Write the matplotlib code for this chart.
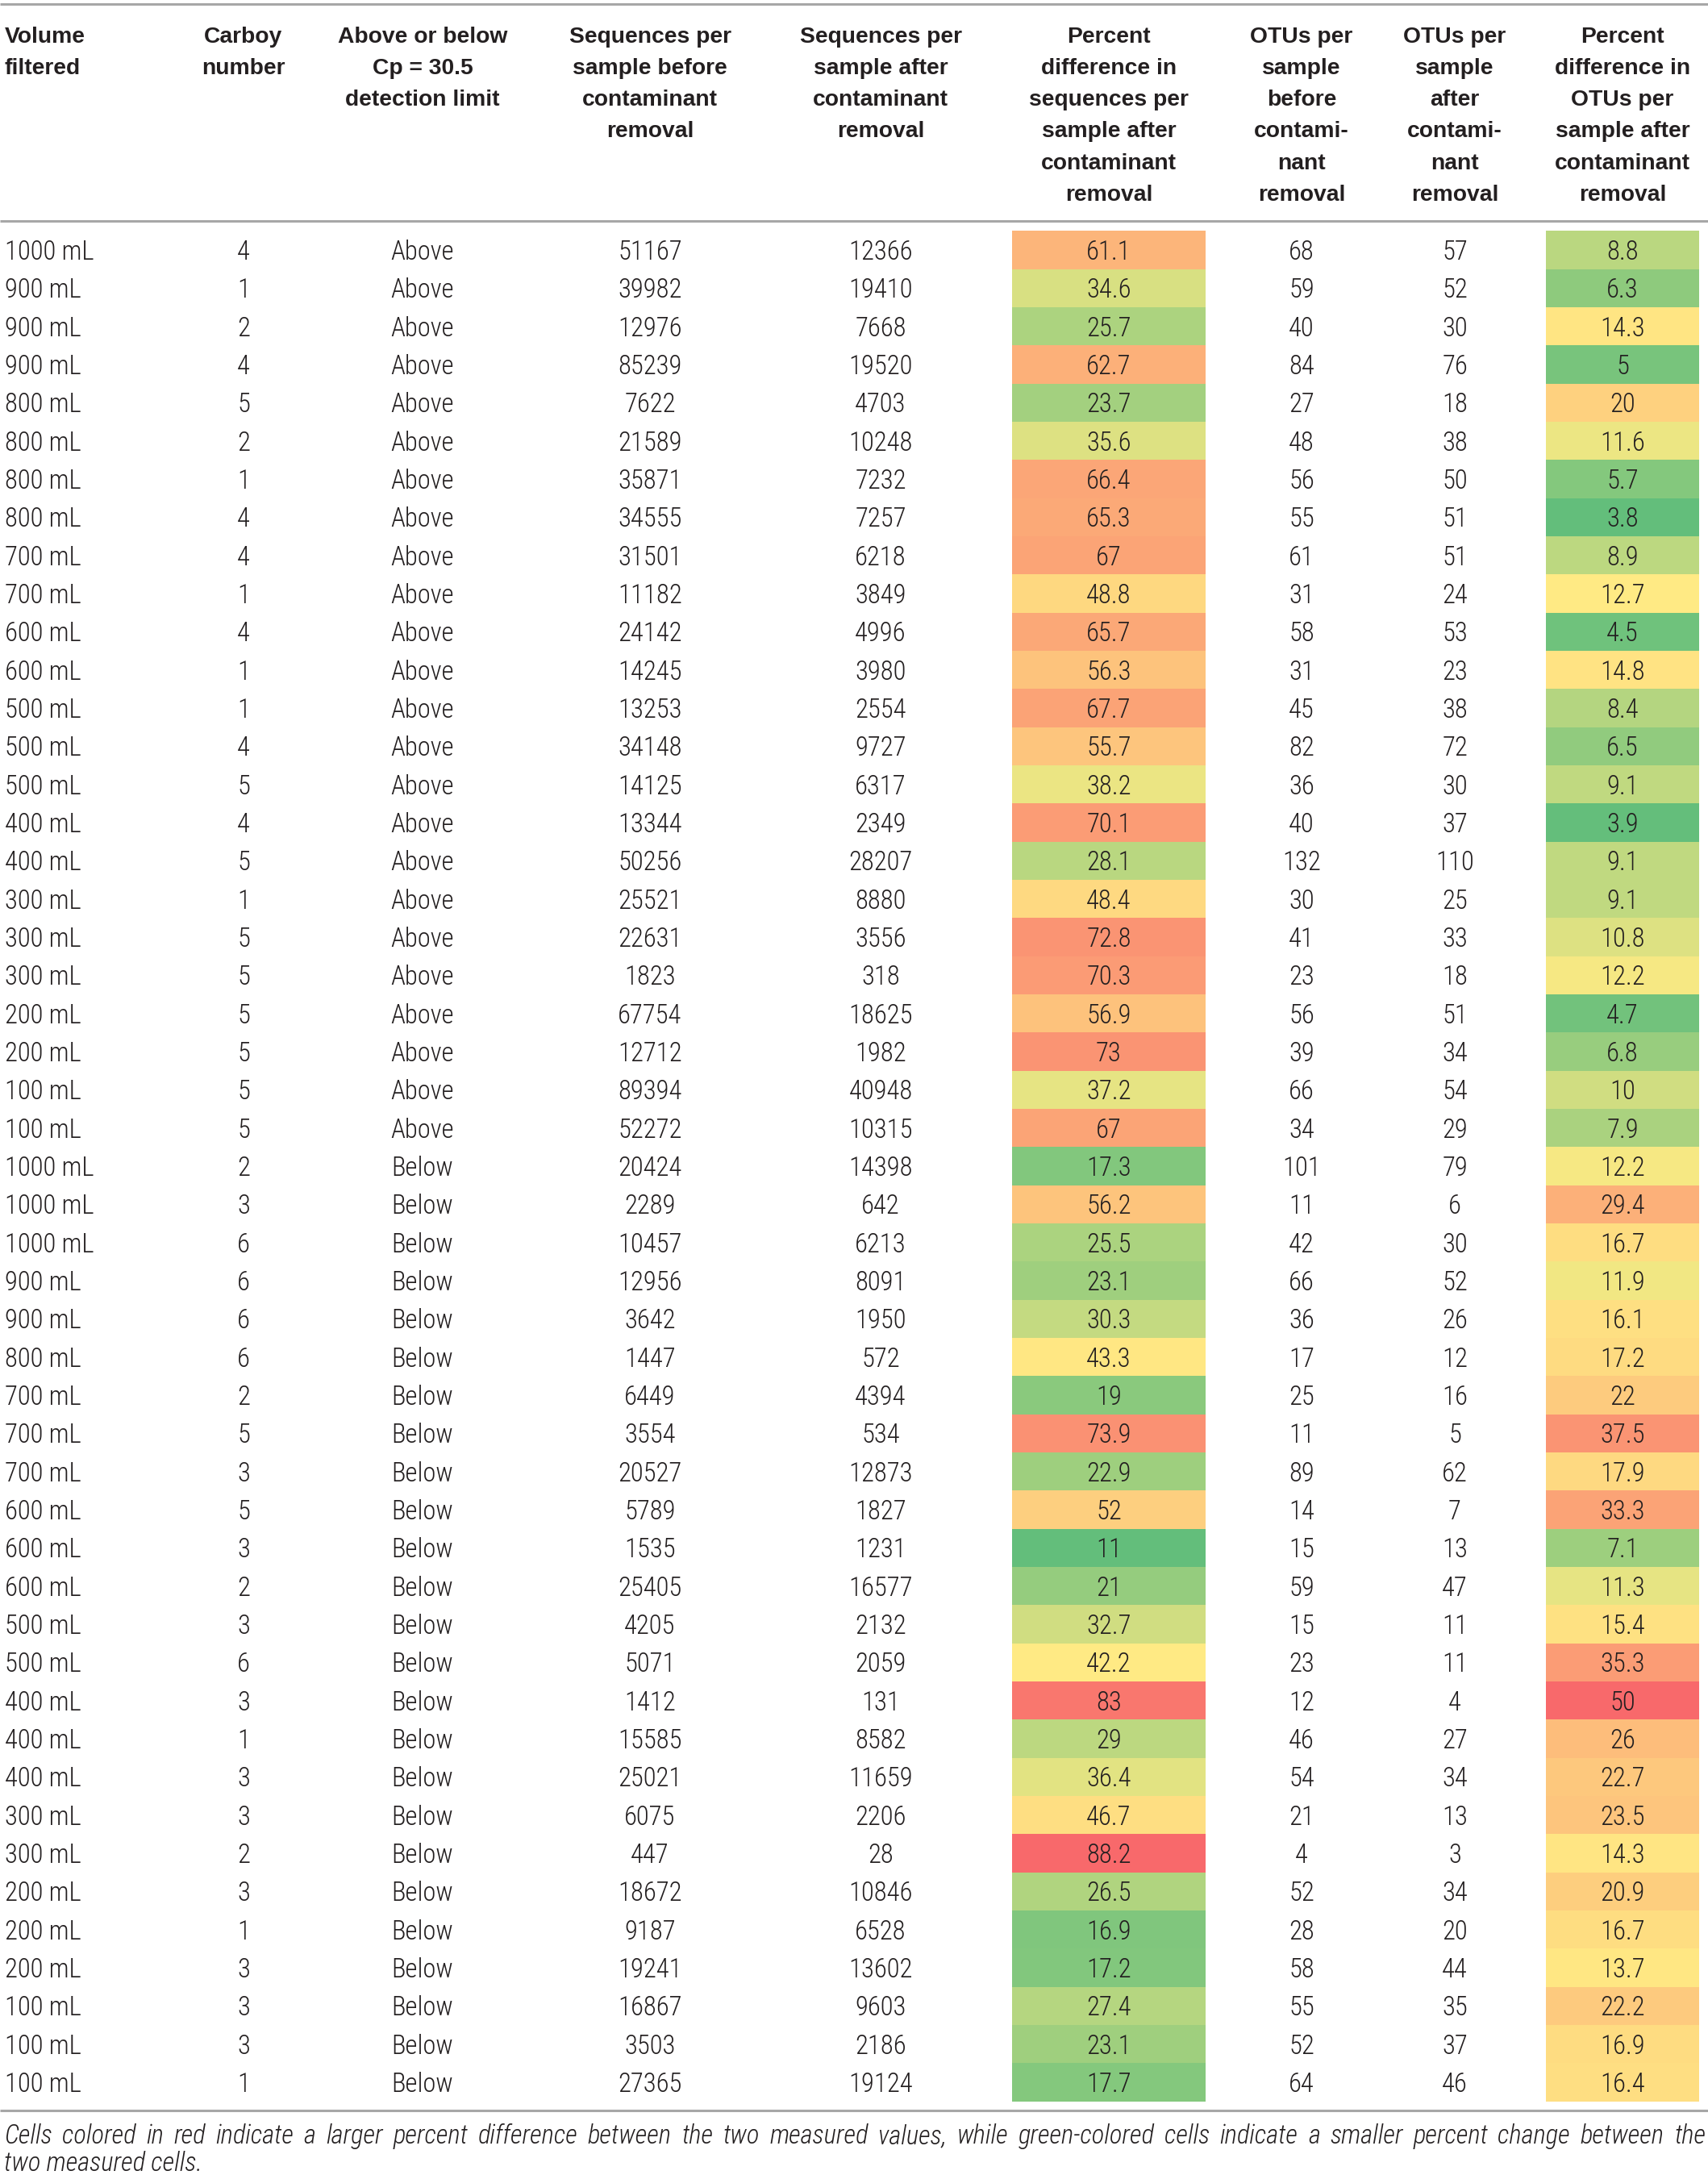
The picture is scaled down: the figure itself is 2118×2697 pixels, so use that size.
import matplotlib
matplotlib.use("Agg")
import matplotlib.pyplot as plt
import numpy as np
from matplotlib.colors import LinearSegmentedColormap, TwoSlopeNorm

# table data
volume = [1000, 900, 900, 900, 800, 800, 800, 800, 700, 700, 600, 600, 500, 500, 500, 400, 400,
          300, 300, 300, 200, 200, 100, 100,
          1000, 1000, 1000, 900, 900, 800, 700, 700, 700, 600, 600, 600, 500, 500, 400, 400, 400,
          300, 300, 200, 200, 200, 100, 100, 100]
carboy = [4, 1, 2, 4, 5, 2, 1, 4, 4, 1, 4, 1, 1, 4, 5, 4, 5, 1, 5, 5, 5, 5, 5, 5,
          2, 3, 6, 6, 6, 6, 2, 5, 3, 5, 3, 2, 3, 6, 3, 1, 3, 3, 2, 3, 1, 3, 3, 3, 1]
detection = ["Above"] * 24 + ["Below"] * 25
seq_before = [51167, 39982, 12976, 85239, 7622, 21589, 35871, 34555, 31501, 11182, 24142, 14245,
              13253, 34148, 14125, 13344, 50256, 25521, 22631, 1823, 67754, 12712, 89394, 52272,
              20424, 2289, 10457, 12956, 3642, 1447, 6449, 3554, 20527, 5789, 1535, 25405, 4205,
              5071, 1412, 15585, 25021, 6075, 447, 18672, 9187, 19241, 16867, 3503, 27365]
seq_after = [12366, 19410, 7668, 19520, 4703, 10248, 7232, 7257, 6218, 3849, 4996, 3980,
             2554, 9727, 6317, 2349, 28207, 8880, 3556, 318, 18625, 1982, 40948, 10315,
             14398, 642, 6213, 8091, 1950, 572, 4394, 534, 12873, 1827, 1231, 16577, 2132,
             2059, 131, 8582, 11659, 2206, 28, 10846, 6528, 13602, 9603, 2186, 19124]
seq_pct = [61.1, 34.6, 25.7, 62.7, 23.7, 35.6, 66.4, 65.3, 67, 48.8, 65.7, 56.3, 67.7, 55.7,
           38.2, 70.1, 28.1, 48.4, 72.8, 70.3, 56.9, 73, 37.2, 67,
           17.3, 56.2, 25.5, 23.1, 30.3, 43.3, 19, 73.9, 22.9, 52, 11, 21, 32.7, 42.2, 83, 29,
           36.4, 46.7, 88.2, 26.5, 16.9, 17.2, 27.4, 23.1, 17.7]
otu_before = [68, 59, 40, 84, 27, 48, 56, 55, 61, 31, 58, 31, 45, 82, 36, 40, 132, 30, 41, 23,
              56, 39, 66, 34, 101, 11, 42, 66, 36, 17, 25, 11, 89, 14, 15, 59, 15, 23, 12, 46,
              54, 21, 4, 52, 28, 58, 55, 52, 64]
otu_after = [57, 52, 30, 76, 18, 38, 50, 51, 51, 24, 53, 23, 38, 72, 30, 37, 110, 25, 33, 18,
             51, 34, 54, 29, 79, 6, 30, 52, 26, 12, 16, 5, 62, 7, 13, 47, 11, 11, 4, 27,
             34, 13, 3, 34, 20, 44, 35, 37, 46]
otu_pct = [8.8, 6.3, 14.3, 5, 20, 11.6, 5.7, 3.8, 8.9, 12.7, 4.5, 14.8, 8.4, 6.5, 9.1, 3.9, 9.1,
           9.1, 10.8, 12.2, 4.7, 6.8, 10, 7.9,
           12.2, 29.4, 16.7, 11.9, 16.1, 17.2, 22, 37.5, 17.9, 33.3, 7.1, 11.3, 15.4, 35.3, 50,
           26, 22.7, 23.5, 14.3, 20.9, 16.7, 13.7, 22.2, 16.9, 16.4]

headers = [
    ["Volume", "filtered"],
    ["Carboy", "number"],
    ["Above or below", "Cp = 30.5", "detection limit"],
    ["Sequences per", "sample before", "contaminant", "removal"],
    ["Sequences per", "sample after", "contaminant", "removal"],
    ["Percent", "difference in", "sequences per", "sample after", "contaminant", "removal"],
    ["OTUs per", "sample", "before", "contami-", "nant", "removal"],
    ["OTUs per", "sample", "after", "contami-", "nant", "removal"],
    ["Percent", "difference in", "OTUs per", "sample after", "contaminant", "removal"],
]
footnote = ("Cells colored in red indicate a larger percent difference between the two measured "
            "values, while green-colored cells indicate a smaller percent change between the "
            "two measured cells.")

W, H = 2118, 2697
HEAD_FONT = ["Liberation Sans", "Arial", "DejaVu Sans"]
BODY_FONT = ["Roboto Condensed", "Liberation Sans Narrow", "Liberation Sans", "DejaVu Sans"]
TXT = "#231f20"
RULE = "#a7a7a7"

fig = plt.figure(figsize=(W / 100, H / 100), dpi=100)
ax = fig.add_axes([0, 0, 1, 1])
ax.set_xlim(0, W)
ax.set_ylim(H, 0)
ax.axis("off")

# column centres (x in pixels); first column is left aligned
col_x = [6, 302, 524, 806, 1092, 1375, 1614, 1804, 2012]
cell_spans = {5: (1255, 1495), 8: (1917, 2107)}
row_y0, row_h = 310, 47.33
head_y0, head_h = 42, 39.3

# Excel-style three colour scale, midpoint at the median
cmap = LinearSegmentedColormap.from_list("rg", ["#63be7b", "#ffeb84", "#f8696b"])

def fmt(v):
    return f"{v:g}"

columns = [
    [f"{v} mL" for v in volume],
    [str(v) for v in carboy],
    detection,
    [str(v) for v in seq_before],
    [str(v) for v in seq_after],
    [fmt(v) for v in seq_pct],
    [str(v) for v in otu_before],
    [str(v) for v in otu_after],
    [fmt(v) for v in otu_pct],
]
colour_vals = {5: seq_pct, 8: otu_pct}

# header
for j, lines in enumerate(headers):
    ha = "left" if j == 0 else "center"
    for k, line in enumerate(lines):
        ax.text(col_x[j], head_y0 + k * head_h + 10.5, line, ha=ha, va="baseline",
                fontsize=20.3, fontweight="bold", family=HEAD_FONT, color=TXT)

# rules
for yr in (5, 274, 2617):
    ax.plot([0, W], [yr, yr], color=RULE, lw=2.2, solid_capstyle="butt")

# coloured cells
for j, vals in colour_vals.items():
    vals = np.array(vals, dtype=float)
    norm = TwoSlopeNorm(vmin=vals.min(), vcenter=np.median(vals), vmax=vals.max())
    x0, x1 = cell_spans[j]
    for i, v in enumerate(vals):
        yc = row_y0 + i * row_h
        ax.add_patch(plt.Rectangle((x0, yc - row_h / 2), x1 - x0, row_h,
                                   facecolor=cmap(norm(v)), edgecolor="none", zorder=1))

# body text
for j, col in enumerate(columns):
    ha = "left" if j == 0 else "center"
    for i, s in enumerate(col):
        yc = row_y0 + i * row_h
        ax.text(col_x[j], yc + 12, s, ha=ha, va="baseline", fontsize=23.5,
                fontweight="light", family=BODY_FONT, color=TXT, zorder=2)

# footnote, first line justified to the full width
words = footnote.split()
line1, line2 = words[:-3], words[-3:]
left, right = 5, W - 3
fig.canvas.draw()
renderer = fig.canvas.get_renderer()
fn_kw = dict(style="italic", fontweight="light", family=BODY_FONT, color=TXT,
             va="baseline", ha="left")
probe = ax.text(0, 0, " ".join(line1), fontsize=20, **fn_kw)
fn_size = min(23.5, 20 * (right - left) / probe.get_window_extent(renderer).width * 0.99)
probe.remove()
arts = [ax.text(0, 2658, w, fontsize=fn_size, **fn_kw) for w in line1]
widths = [a.get_window_extent(renderer).width for a in arts]
gap = (right - left - sum(widths)) / (len(arts) - 1)
x = left
for a, w in zip(arts, widths):
    a.set_x(x)
    x += w + gap
ax.text(left, 2692, " ".join(line2), fontsize=fn_size, **fn_kw)

fig.savefig("out.png", dpi=100)
